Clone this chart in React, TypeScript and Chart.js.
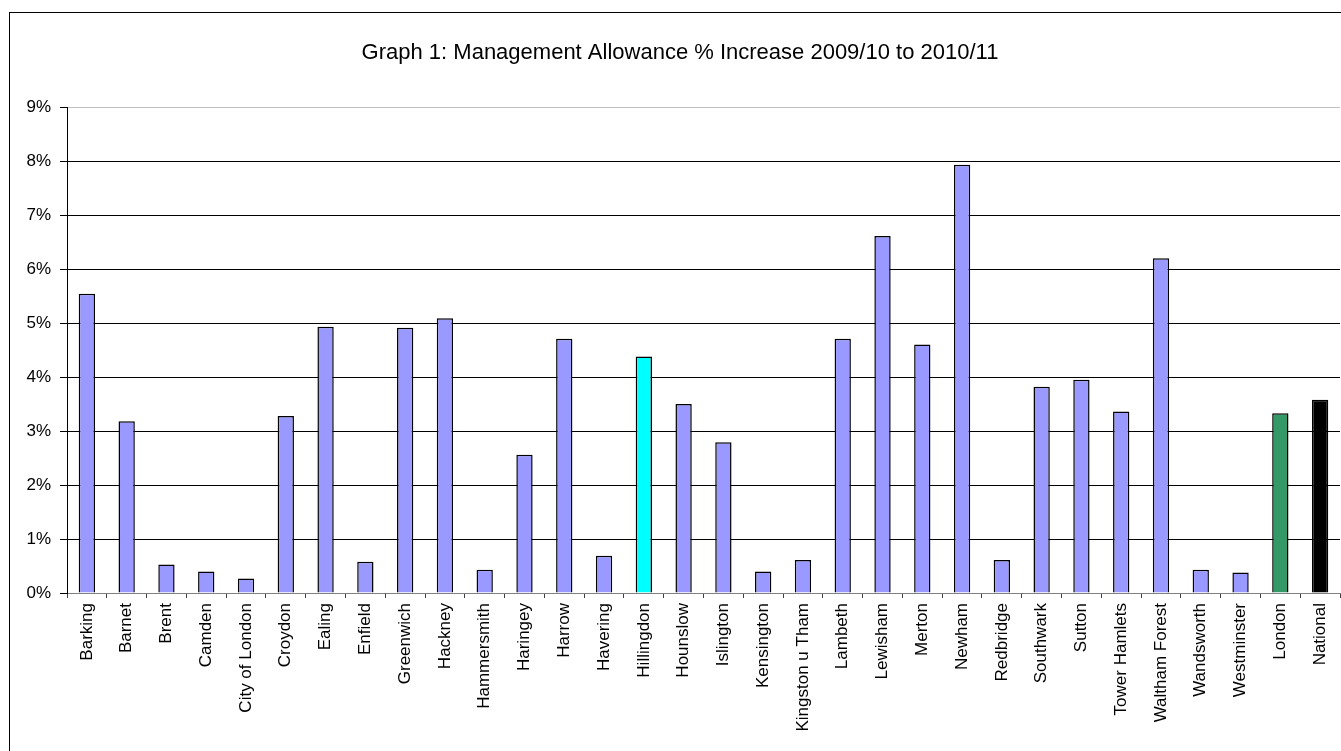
import React, { useEffect, useRef } from "react";
import { Chart, registerables } from "chart.js";

Chart.register(...registerables);

const boroughs = [
  "Barking", "Barnet", "Brent", "Camden", "City of London", "Croydon", "Ealing",
  "Enfield", "Greenwich", "Hackney", "Hammersmith", "Haringey", "Harrow",
  "Havering", "Hillingdon", "Hounslow", "Islington", "Kensington",
  "Kingston u Tham", "Lambeth", "Lewisham", "Merton", "Newham", "Redbridge",
  "Southwark", "Sutton", "Tower Hamlets", "Waltham Forest", "Wandsworth",
  "Westminster", "London", "National",
];

// Percentage increase in management allowance, 2009/10 to 2010/11
const increasePct = [
  5.54, 3.18, 0.53, 0.40, 0.27, 3.28, 4.93, 0.58, 4.91, 5.09, 0.43, 2.56, 4.71,
  0.69, 4.38, 3.50, 2.79, 0.40, 0.61, 4.71, 6.61, 4.60, 7.93, 0.61, 3.82, 3.95,
  3.36, 6.20, 0.43, 0.38, 3.33, 3.58,
];

const barColours = boroughs.map((name) =>
  name === "Hillingdon" ? "#00FFFF" : name === "London" ? "#339966" : name === "National" ? "#000000" : "#9999FF"
);

const yTicks = [0, 1, 2, 3, 4, 5, 6, 7, 8, 9];
const titleText = "Graph 1: Management Allowance % Increase 2009/10 to 2010/11";
const FONT = "'Liberation Sans', Arial, sans-serif";

// Draws the outer chart frame and the title above the plot
const framePlugin = {
  id: "frame",
  beforeDraw(chart: any) {
    const { ctx } = chart;
    ctx.save();
    ctx.fillStyle = "#ffffff";
    ctx.fillRect(0, 0, chart.width, chart.height);
    ctx.strokeStyle = "#000000";
    ctx.lineWidth = 1;
    ctx.strokeRect(9.5, 12.5, chart.width + 20, chart.height + 20);
    ctx.restore();
  },
  afterDraw(chart: any) {
    const { ctx } = chart;
    ctx.save();
    ctx.fillStyle = "#000000";
    ctx.font = `22px ${FONT}`;
    ctx.textAlign = "center";
    ctx.textBaseline = "middle";
    ctx.fillText(titleText, 680, 53);
    ctx.restore();
  },
};

export default function App() {
  const canvasRef = useRef<HTMLCanvasElement | null>(null);

  useEffect(() => {
    document.body.style.margin = "0";
    const canvas = canvasRef.current;
    if (!canvas) return;
    const chart = new Chart(canvas, {
      type: "bar",
      data: {
        labels: boroughs,
        datasets: [
          {
            data: increasePct,
            backgroundColor: barColours,
            borderColor: "#000000",
            borderWidth: 1.5,
            categoryPercentage: 1,
            barPercentage: 0.41,
          },
        ],
      },
      options: {
        responsive: false,
        animation: false,
        layout: { padding: { top: 107, right: 1, left: 0, bottom: 0 } },
        plugins: {
          legend: { display: false },
          title: { display: false },
          tooltip: { enabled: false },
        },
        scales: {
          x: {
            offset: true,
            grid: {
              offset: true,
              drawOnChartArea: false,
              drawTicks: true,
              tickLength: 5,
              tickColor: "#404040",
            },
            border: { display: true, color: "#808080", width: 1 },
            ticks: {
              autoSkip: false,
              maxRotation: 90,
              minRotation: 90,
              padding: 5,
              color: "#000000",
              font: { family: FONT, size: 17 },
            },
            afterFit(scale: any) {
              scale.height = 158;
              scale.paddingLeft = 0;
              scale.paddingRight = 0;
            },
          },
          y: {
            min: 0,
            max: 9,
            afterBuildTicks(scale: any) {
              scale.ticks = yTicks.map((v) => ({ value: v }));
            },
            grid: {
              color: (c: any) => (c.tick && c.tick.value === 9 ? "#c0c0c0" : "#000000"),
              tickColor: "#000000",
              tickLength: 7,
              lineWidth: 1,
            },
            border: { display: true, color: "#000000", width: 1 },
            ticks: {
              padding: 9,
              color: "#000000",
              font: { family: FONT, size: 17 },
              callback: (v: any) => `${v}%`,
            },
            afterFit(scale: any) {
              scale.width = 67;
              scale.paddingTop = 0;
              scale.paddingBottom = 0;
            },
          },
        },
      },
      plugins: [framePlugin],
    });
    return () => chart.destroy();
  }, []);

  return (
    <canvas
      ref={canvasRef}
      width={1341}
      height={751}
      style={{ display: "block", width: 1341, height: 751 }}
    />
  );
}
